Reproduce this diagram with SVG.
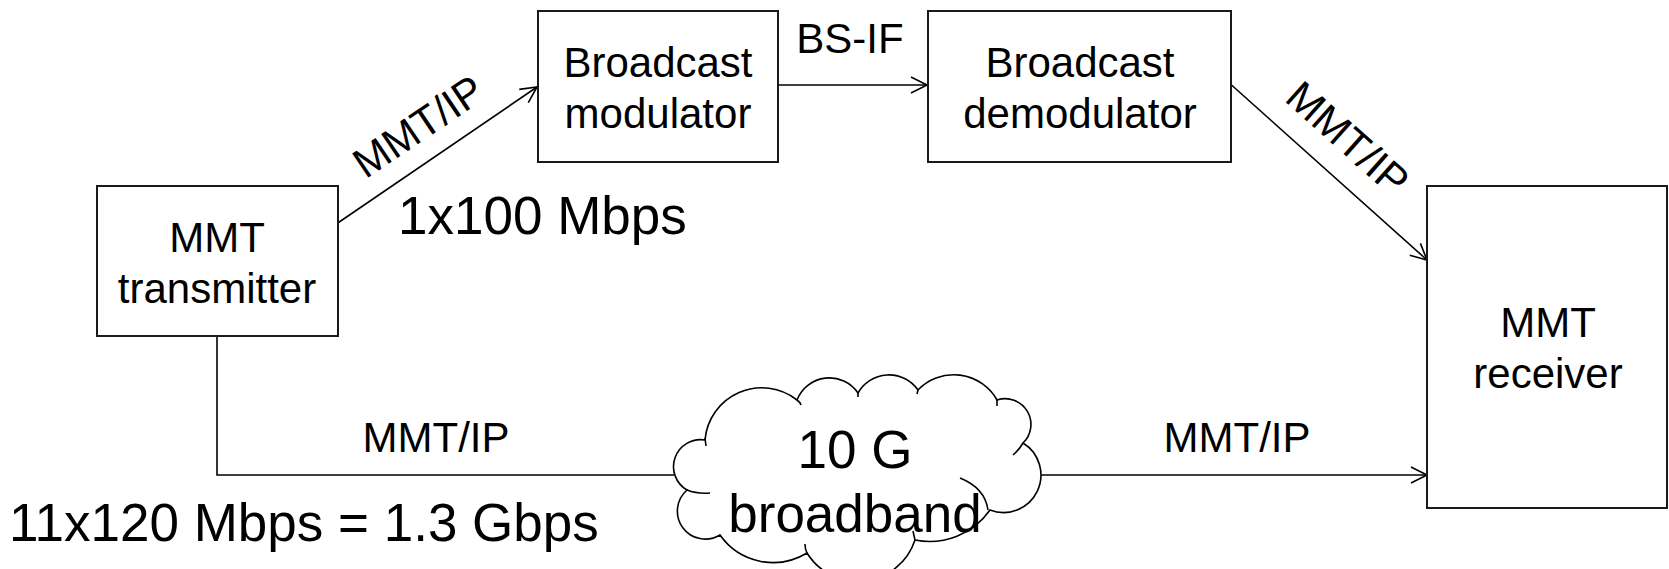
<svg xmlns="http://www.w3.org/2000/svg" width="1669" height="569" viewBox="0 0 1669 569">
<style>
.box{fill:#fff;stroke:#1a1a1a;stroke-width:2}
.t{font-family:"Liberation Sans",Arial,sans-serif;font-size:42px;fill:#000;text-anchor:middle}
.big{font-family:"Liberation Sans",Arial,sans-serif;font-size:53px;fill:#000}
.ln{fill:none;stroke:#000;stroke-width:1.6}
</style>
<defs>
<marker id="arr" markerUnits="userSpaceOnUse" markerWidth="20" markerHeight="20" refX="17" refY="9" orient="auto">
<path d="M1,1 L17,9 L1,17" fill="none" stroke="#000" stroke-width="1.6"/>
</marker>
</defs>
<rect width="1669" height="569" fill="#fff"/>
<g id="connectors">
<line class="ln" x1="338.5" y1="222.5" x2="537" y2="87" marker-end="url(#arr)"/>
<line class="ln" x1="778" y1="85" x2="927" y2="85" marker-end="url(#arr)"/>
<line class="ln" x1="1231.5" y1="85" x2="1427" y2="260" marker-end="url(#arr)"/>
<polyline class="ln" points="217,336 217,475 674,475"/>
<line class="ln" x1="1037" y1="475" x2="1427" y2="475" marker-end="url(#arr)"/>
<text class="t" transform="translate(418,126) rotate(-34)" y="15">MMT/IP</text>
<text class="t" x="850" y="53">BS-IF</text>
<text class="t" transform="translate(1348,138) rotate(41.7)" y="15">MMT/IP</text>
<text class="t" x="436" y="452">MMT/IP</text>
<text class="t" x="1237" y="452">MMT/IP</text>
</g>
<g id="mmt-transmitter">
<rect class="box" x="97" y="186" width="241" height="150"/>
<text class="t" x="217" y="252">MMT</text>
<text class="t" x="217" y="303">transmitter</text>
</g>
<g id="broadcast-modulator">
<rect class="box" x="538" y="11" width="240" height="151"/>
<text class="t" x="658" y="77">Broadcast</text>
<text class="t" x="658" y="128">modulator</text>
</g>
<g id="broadcast-demodulator">
<rect class="box" x="928" y="11" width="303" height="151"/>
<text class="t" x="1080" y="77">Broadcast</text>
<text class="t" x="1080" y="128">demodulator</text>
</g>
<g id="mmt-receiver">
<rect class="box" x="1427" y="186" width="240" height="322"/>
<text class="t" x="1548" y="337">MMT</text>
<text class="t" x="1548" y="388">receiver</text>
</g>
<g id="broadband-cloud">
<path fill="#fff" stroke="#000" stroke-width="1.6" d="M705,440 A27,27 0 0 0 687,490 A28,28 0 0 0 720,535 A65,65 0 0 0 807,553 A60,60 0 0 0 915,540 A74,74 0 0 0 990,510 A37.5,37.5 0 0 0 1023,443 A25.75,25.75 0 0 0 997,400 A49.6,49.6 0 0 0 918,390 A35.5,35.5 0 0 0 858,393 A34.7,34.7 0 0 0 797,400 A57,57 0 0 0 705,440 Z"/>
<path fill="none" stroke="#000" stroke-width="1.6" d="M705,438 L706,446 M687,490 Q697,494 710,493 M807,553 Q805,549 805,544 M915,540 Q914,536 913,531 M960,478 Q985,488 988,510 M1023,443 Q1019,450 1013,455 M997,400 L997,406 M918,390 L917,394 M858,393 L858,397 M797,400 Q800,402 801,405"/>
<text class="big" x="855" y="468" text-anchor="middle">10 G</text>
<text class="big" x="855" y="532" text-anchor="middle">broadband</text>
</g>
<text class="big" x="398" y="234">1x100 Mbps</text>
<text class="big" x="9" y="541">11x120 Mbps = 1.3 Gbps</text>
</svg>
